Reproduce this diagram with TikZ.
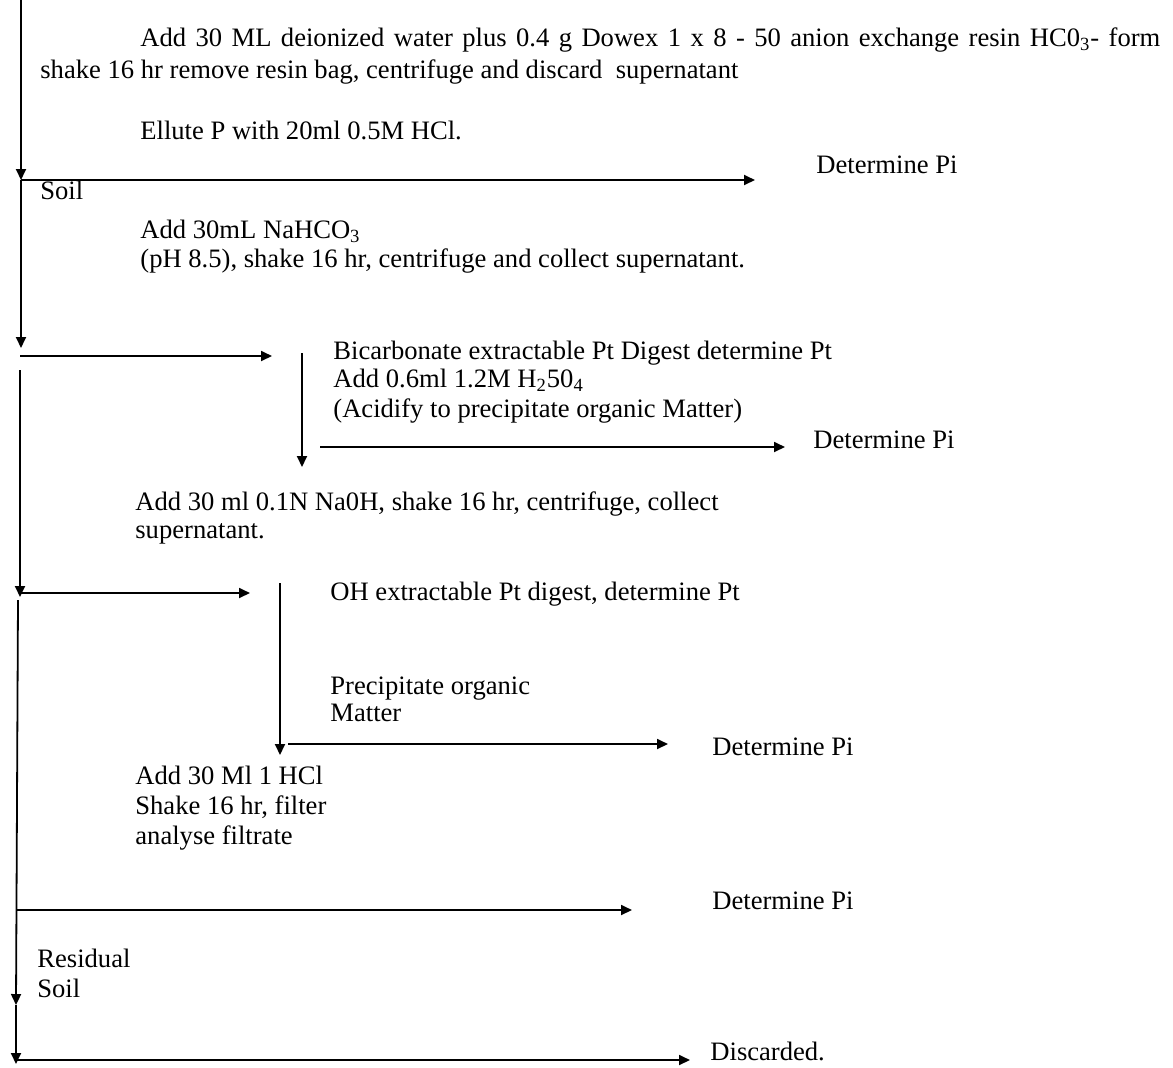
\documentclass[tikz,border=0pt]{standalone}
\usepackage{fontspec}
\setmainfont{Liberation Serif}
\usepackage{tikz}
\usetikzlibrary{positioning,arrows.meta}

\begin{document}
\begin{tikzpicture}[x=0.5pt,y=-0.5pt,font=\fontsize{13.3}{15.5}\selectfont,
    lbl/.style={anchor=base west,inner sep=0pt},
    flow/.style={line width=0.9pt,-{Triangle[length=5.5pt,width=5pt]}}]
      \useasboundingbox (0,0) rectangle (1173,1067);
      % main column
      \coordinate (s0) at (21,0);
      \coordinate (s1) at (21,180);
      \coordinate (s2) at (21,348);
      \coordinate (s3) at (20,370);
      \coordinate (s4) at (20,597);
      \coordinate (s5) at (18,600);
      \coordinate (s6) at (16,1005);
      \coordinate (s7) at (16,1064);
      \coordinate (h2) at (20,356);
      \coordinate (h3) at (20,593);
      \coordinate (h4) at (17,910);
      \coordinate (h5) at (16,1060);
      % arrow ends
      \coordinate (e1) at (755,180);
      \coordinate (e2) at (272,356);
      \coordinate (e3) at (250,593);
      \coordinate (e4) at (632,910);
      \coordinate (e5) at (690,1060);
      % side column
      \coordinate (b0) at (302,353);
      \coordinate (b1) at (302,467);
      \coordinate (b2) at (320,447);
      \coordinate (b3) at (785,447);
      \coordinate (c0) at (280,583);
      \coordinate (c1) at (280,755);
      \coordinate (c2) at (288,744);
      \coordinate (c3) at (668,744);

      \node[lbl] (resin1) at (140,46) {\makebox[510pt][s]{Add 30 ML deionized water plus 0.4 g Dowex 1 x 8 - 50 anion exchange resin HC0\textsubscript{3}- form}};
      \node[lbl] (resin2) at (40,78) {shake 16 hr remove resin bag, centrifuge and discard\ \ supernatant};
      \node[lbl] (ellute) at (140,139) {Ellute P with 20ml 0.5M HCl.};
      \node[lbl] (soil) at (40,199) {Soil};
      \node[lbl] (pi1) at (816,173) {Determine Pi};
      \node[lbl] (nahco1) at (140,238) {Add 30mL NaHCO\textsubscript{3}};
      \node[lbl] (nahco2) at (140,267) {(pH 8.5), shake 16 hr, centrifuge and collect supernatant.};
      \node[lbl] (bicarb1) at (333,359) {Bicarbonate extractable Pt Digest determine Pt};
      \node[lbl] (bicarb2) at (333,387) {Add 0.6ml 1.2M H\textsubscript{2}50\textsubscript{4}};
      \node[lbl] (bicarb3) at (333,417) {(Acidify to precipitate organic Matter)};
      \node[lbl] (pi2) at (813,448) {Determine Pi};
      \node[lbl] (naoh1) at (135,510) {Add 30 ml 0.1N Na0H, shake 16 hr, centrifuge, collect};
      \node[lbl] (naoh2) at (135,538) {supernatant.};
      \node[lbl] (ohext) at (330,600) {OH extractable Pt digest, determine Pt};
      \node[lbl] (precip1) at (330,694) {Precipitate organic};
      \node[lbl] (precip2) at (330,721) {Matter};
      \node[lbl] (pi3) at (712,755) {Determine Pi};
      \node[lbl] (hcl1) at (135,784) {Add 30 Ml 1 HCl};
      \node[lbl] (hcl2) at (135,814) {Shake 16 hr, filter};
      \node[lbl] (hcl3) at (135,844) {analyse filtrate};
      \node[lbl] (pi4) at (712,909) {Determine Pi};
      \node[lbl] (resid1) at (37,967) {Residual};
      \node[lbl] (resid2) at (37,997) {Soil};
      \node[lbl] (disc) at (710,1060) {Discarded.};

      \draw[flow] (s0) -- (s1);
      \draw[flow] (s1) -- (e1);
      \draw[flow] (s1) -- (s2);
      \draw[flow] (h2) -- (e2);
      \draw[flow] (s3) -- (s4);
      \draw[flow] (h3) -- (e3);
      \draw[flow] (s5) -- (s6);
      \draw[flow] (h4) -- (e4);
      \draw[flow] (s6) -- (s7);
      \draw[flow] (h5) -- (e5);
      \draw[flow] (b0) -- (b1);
      \draw[flow] (b2) -- (b3);
      \draw[flow] (c0) -- (c1);
      \draw[flow] (c2) -- (c3);
    \end{tikzpicture}
\end{document}
